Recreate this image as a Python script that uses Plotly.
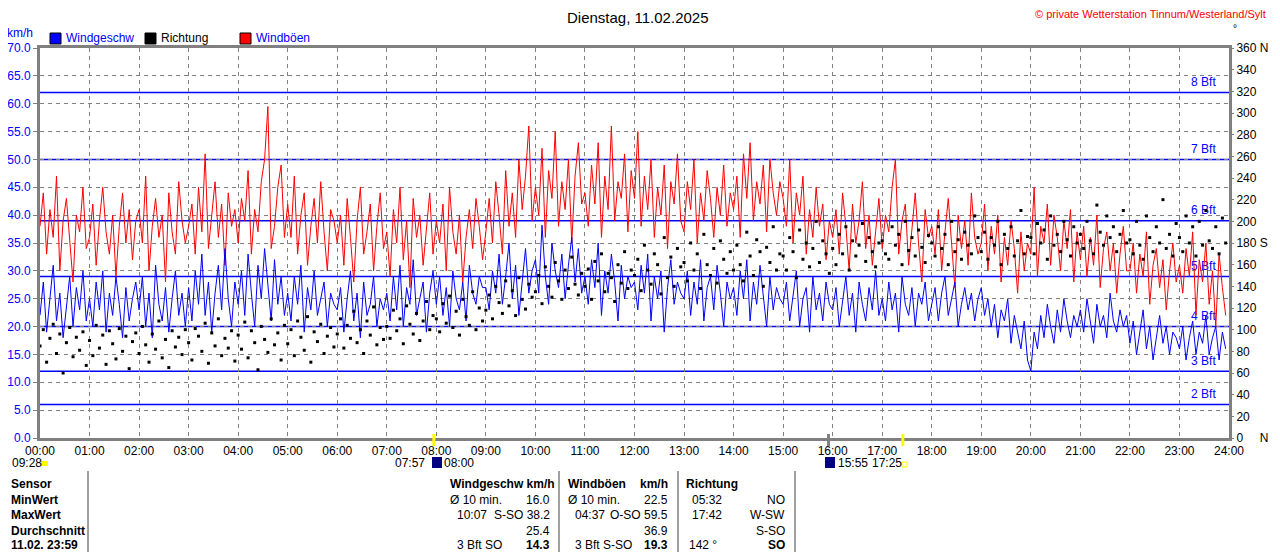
import plotly.graph_objects as go

# minutes after midnight, one reading every 4 minutes
minutes = list(range(0, 1440, 4))

# gusts (km/h), one row per hour
gusts = [
    38, 44, 33, 41, 36, 47, 30, 39, 43, 35, 28, 40, 37, 45, 34,
    36, 42, 31, 39, 45, 37, 33, 40, 29, 38, 44, 35, 41, 32, 39,
    41, 35, 47, 30, 38, 43, 36, 40, 28, 44, 37, 33, 46, 39, 35,
    38, 42, 33, 45, 37, 51, 34, 40, 46, 36, 42, 31, 44, 38, 41,
    35, 43, 39, 48, 33, 41, 37, 46, 50, 59.5, 34, 38, 45, 49, 36,
    42, 36, 47, 33, 40, 44, 31, 38, 43, 35, 46, 37, 30, 41, 39,
    35, 40, 31, 43, 36, 28, 39, 45, 33, 37, 42, 30, 38, 44, 34,
    37, 29, 41, 35, 45, 32, 39, 27, 43, 36, 40, 31, 38, 44, 33,
    39, 35, 42, 30, 45, 37, 33, 40, 28, 36, 41, 34, 43, 38, 32,
    37, 43, 35, 46, 40, 33, 48, 38, 44, 36, 50, 41, 47, 56, 39,
    45, 40, 52, 36, 48, 43, 55, 38, 46, 41, 50, 35, 47, 53, 42,
    44, 38, 49, 42, 53, 36, 47, 41, 56, 39, 46, 43, 51, 37, 48,
    43, 55, 38, 47, 41, 50, 36, 45, 40, 49, 34, 46, 42, 51, 39,
    37, 46, 41, 50, 35, 44, 39, 48, 43, 36, 45, 40, 49, 38, 44,
    41, 47, 36, 51, 43, 53, 39, 46, 42, 49, 37, 50, 44, 40, 46,
    43, 38, 50, 35, 44, 40, 47, 33, 41, 36, 45, 38, 42, 32, 39,
    36, 41, 33, 44, 38, 30, 42, 35, 39, 46, 34, 40, 31, 37, 43,
    34, 40, 37, 45, 50, 33, 39, 42, 31, 38, 44, 35, 28, 41, 36,
    38, 33, 41, 30, 37, 43, 35, 27, 40, 34, 39, 31, 44, 36, 33,
    35, 42, 30, 38, 33, 40, 28, 36, 31, 39, 34, 26, 37, 30, 35,
    33, 45, 29, 38, 35, 42, 31, 40, 36, 30, 39, 34, 41, 28, 37,
    32, 38, 29, 36, 31, 40, 27, 34, 37, 30, 35, 26, 33, 38, 30,
    30, 35, 26, 33, 29, 37, 24, 31, 34, 27, 32, 23, 30, 35, 28,
    31, 26, 34, 29, 37, 22, 32, 28, 35, 24, 30, 20, 33, 27, 22,
]

# mean wind speed (km/h)
speed = [
    22, 28, 19, 25, 31, 21, 26, 18, 24, 29, 20, 27, 23, 30, 21,
    25, 20, 28, 23, 30, 19, 26, 22, 29, 24, 18, 27, 21, 25, 28,
    23, 29, 20, 26, 18, 31, 24, 21, 27, 19, 25, 30, 22, 26, 20,
    27, 21, 30, 24, 33, 22, 28, 19, 26, 31, 23, 34, 25, 20, 28,
    24, 30, 22, 33, 26, 20, 31, 25, 34, 27, 21, 32, 24, 29, 22,
    26, 21, 29, 24, 31, 19, 27, 23, 30, 22, 25, 28, 20, 26, 24,
    23, 27, 19, 25, 30, 21, 26, 18, 28, 22, 24, 29, 20, 25, 23,
    26, 21, 29, 23, 31, 20, 27, 24, 32, 22, 25, 28, 19, 26, 30,
    24, 29, 22, 27, 20, 30, 25, 23, 28, 21, 31, 26, 24, 29, 27,
    27, 23, 30, 26, 33, 24, 29, 35, 25, 31, 22, 28, 34, 26, 30,
    32, 26, 38.2, 29, 24, 35, 30, 27, 33, 25, 31, 36, 28, 34, 26,
    29, 24, 32, 27, 35, 22, 30, 26, 33, 28, 21, 31, 25, 29, 27,
    28, 23, 31, 26, 33, 21, 29, 25, 30, 19, 27, 32, 24, 28, 26,
    25, 30, 22, 28, 24, 32, 21, 27, 29, 23, 31, 26, 20, 28, 25,
    27, 22, 30, 25, 32, 21, 28, 24, 31, 26, 20, 29, 23, 27, 25,
    24, 28, 21, 26, 30, 20, 25, 27, 19, 29, 23, 26, 21, 28, 24,
    23, 27, 20, 25, 29, 22, 26, 19, 28, 24, 21, 27, 23, 30, 22,
    25, 21, 28, 23, 26, 19, 29, 24, 22, 27, 20, 26, 24, 28, 21,
    24, 27, 21, 26, 29, 22, 25, 28, 20, 24, 27, 23, 26, 21, 25,
    27, 22, 25, 20, 24, 18, 23, 21, 25, 17, 22, 19, 16, 21, 14,
    12, 19, 16, 22, 18, 24, 20, 17, 23, 19, 25, 21, 18, 22, 20,
    23, 19, 25, 21, 17, 24, 20, 22, 18, 26, 21, 19, 23, 20, 22,
    17, 21, 15, 19, 23, 16, 20, 14, 18, 22, 17, 20, 15, 19, 18,
    16, 20, 14, 18, 21, 15, 19, 17, 22, 15, 18, 20, 14, 19, 16,
]

# wind direction (degrees)
direction = [
    85, 100, 70, 92, 105, 78, 96, 60, 88, 102, 75, 93, 81, 98, 67,
    90, 76, 104, 83, 95, 68, 99, 87, 73, 101, 80, 94, 64, 89, 97,
    78, 103, 86, 70, 96, 82, 108, 74, 91, 65, 99, 84, 93, 77, 100,
    88, 72, 101, 94, 80, 106, 69, 97, 85, 110, 76, 92, 83, 99, 71,
    95, 82, 107, 74, 99, 88, 63, 103, 91, 79, 110, 86, 97, 72, 104,
    87, 100, 76, 108, 93, 81, 112, 70, 98, 89, 105, 78, 94, 102, 84,
    96, 110, 83, 104, 92, 117, 88, 100, 78, 108, 95, 121, 86, 102, 91,
    103, 92, 118, 99, 110, 87, 122, 105, 96, 115, 90, 108, 126, 100, 113,
    110, 98, 124, 106, 131, 102, 117, 95, 128, 112, 104, 135, 100, 120, 108,
    118, 132, 110, 140, 125, 115, 145, 122, 136, 113, 148, 128, 119, 142, 130,
    135, 150, 124, 158, 140, 130, 162, 145, 128, 155, 138, 167, 142, 132, 152,
    140, 156, 128, 163, 145, 170, 135, 152, 148, 126, 160, 143, 172, 138, 155,
    150, 165, 136, 178, 155, 142, 170, 160, 133, 185, 148, 167, 140, 175, 158,
    162, 145, 180, 155, 170, 138, 188, 160, 150, 175, 143, 182, 165, 152, 172,
    155, 178, 160, 145, 190, 168, 150, 183, 172, 140, 176, 162, 195, 155, 170,
    168, 155, 185, 172, 148, 192, 165, 180, 158, 175, 200, 162, 182, 170, 152,
    175, 160, 188, 170, 195, 155, 182, 168, 178, 198, 163, 185, 172, 158, 180,
    182, 170, 165, 195, 178, 188, 160, 200, 173, 185, 168, 192, 176, 162, 187,
    180, 168, 195, 175, 188, 160, 200, 172, 183, 165, 190, 178, 170, 205, 185,
    172, 190, 165, 185, 178, 200, 160, 188, 175, 195, 168, 182, 210, 170, 186,
    185, 170, 198, 180, 192, 165, 205, 178, 188, 172, 200, 183, 168, 195, 180,
    188, 175, 200, 182, 170, 215, 190, 178, 205, 185, 195, 172, 188, 210, 180,
    183, 170, 200, 178, 165, 205, 185, 172, 195, 180, 220, 175, 188, 168, 198,
    185, 172, 205, 180, 195, 168, 200, 178, 210, 182, 175, 195, 170, 203, 180,
]

# Beaufort thresholds (km/h)
bft_names = ["2 Bft", "3 Bft", "4 Bft", "5 Bft", "6 Bft", "7 Bft", "8 Bft"]
bft_limits = [6, 12, 20, 29, 39, 50, 62]

hour_ticks = list(range(0, 1441, 60))
hour_labels = [f"{h:02d}:00" for h in range(25)]
dir_ticks = list(range(0, 361, 20))
dir_labels = [str(d) for d in dir_ticks]
dir_labels[0] = "0     N"
dir_labels[9] = "180 S"
dir_labels[18] = "360 N"

FONT = "Liberation Sans"
BLUE = "#0000ff"
RED = "#ff0000"
GREY = "#808080"


# positions below are given in the reference's pixels, relative to the plot box
def px(x):
    return (x - 40) / 1189


def py(y):
    return (438 - y) / 390


fig = go.Figure()

# Bft labels sit under the data, like in the original
fig.add_trace(go.Scatter(
    x=[1424] * len(bft_limits), y=[v + 1.7 for v in bft_limits],
    mode="text", text=bft_names, textposition="middle left",
    textfont=dict(color=BLUE, size=12, family=FONT),
    hoverinfo="skip", showlegend=False))

fig.add_trace(go.Scatter(
    x=minutes, y=gusts, name="Windböen", mode="lines",
    line=dict(color=RED, width=1), showlegend=False))
fig.add_trace(go.Scatter(
    x=minutes, y=speed, name="Windgeschw", mode="lines",
    line=dict(color=BLUE, width=1), showlegend=False))
fig.add_trace(go.Scatter(
    x=minutes, y=direction, name="Richtung", mode="markers", yaxis="y2",
    marker=dict(color="black", size=3, symbol="square"), showlegend=False))

shapes = []
for v in bft_limits:
    shapes.append(dict(type="line", xref="x", yref="y", x0=0, x1=1440, y0=v, y1=v,
                       line=dict(color=BLUE, width=1.5), layer="below"))

# sunrise / sunset / moon marks on the time axis
for m, col in [(477, "#ffff00"), (1045, "#ffff00"), (955, GREY)]:
    shapes.append(dict(type="line", xref="x", yref="paper", x0=m, x1=m,
                       y0=py(446), y1=py(434), line=dict(color=col, width=3)))

# legend boxes
for x0, col in [(50, BLUE), (145, "black"), (240, RED)]:
    shapes.append(dict(type="rect", xref="paper", yref="paper",
                       x0=px(x0), x1=px(x0 + 11), y0=py(44), y1=py(33),
                       fillcolor=col, line=dict(color="black", width=1)))

# small icons under the axis
shapes.append(dict(type="rect", xref="paper", yref="paper", x0=px(41), x1=px(48),
                   y0=py(466), y1=py(461), fillcolor="#ffff00", line=dict(width=0)))
for x0 in [432, 825]:
    shapes.append(dict(type="rect", xref="paper", yref="paper", x0=px(x0), x1=px(x0 + 10),
                       y0=py(468), y1=py(457), fillcolor="#000080", line=dict(width=0)))
shapes.append(dict(type="rect", xref="paper", yref="paper", x0=px(902), x1=px(907),
                   y0=py(467), y1=py(462), line=dict(color="#ffff00", width=1)))

# table separators
for x0 in [88, 559, 678, 795]:
    shapes.append(dict(type="line", xref="paper", yref="paper", x0=px(x0), x1=px(x0),
                       y0=py(552), y1=py(471), line=dict(color=GREY, width=1.5)))

annotations = []


def note(text, x, y, anchor="left", bold=False, color="black", size=12):
    if bold:
        text = f"<b>{text}</b>"
    annotations.append(dict(text=text, x=px(x), y=py(y), xref="paper", yref="paper",
                            xanchor=anchor, yanchor="middle", showarrow=False,
                            font=dict(family=FONT, size=size, color=color)))


note("Dienstag, 11.02.2025", 638, 17, anchor="center", size=15)
note("© private Wetterstation Tinnum/Westerland/Sylt", 1268, 14, anchor="right", color=RED, size=11)
note("km/h", 5, 33, color=BLUE)
note("Windgeschw", 64, 38, color=BLUE)
note("Richtung", 159, 38)
note("Windböen", 254, 38, color=BLUE)
note("°", 1231, 29, size=10)

note("09:28", 10, 463)
note("07:57", 427, 463, anchor="right")
note("08:00", 442, 463)
note("15:55", 836, 463)
note("17:25", 870, 463)

rows = [484, 500, 515, 531, 545]
for label, y in zip(["Sensor", "MinWert", "MaxWert", "Durchschnitt", "11.02. 23:59"], rows):
    note(label, 9, y, bold=True)

note("Windgeschw km/h", 448, rows[0], bold=True)
note("Ø 10 min.", 448, rows[1])
note("16.0", 552, rows[1], anchor="right")
note("10:07", 455, rows[2])
note("S-SO 38.2", 552, rows[2], anchor="right")
note("25.4", 552, rows[3], anchor="right")
note("3 Bft SO", 455, rows[4])
note("14.3", 552, rows[4], anchor="right", bold=True)

note("Windböen", 566, rows[0], bold=True)
note("km/h", 670, rows[0], anchor="right", bold=True)
note("Ø 10 min.", 566, rows[1])
note("22.5", 670, rows[1], anchor="right")
note("04:37", 573, rows[2])
note("O-SO 59.5", 670, rows[2], anchor="right")
note("36.9", 670, rows[3], anchor="right")
note("3 Bft S-SO", 573, rows[4])
note("19.3", 670, rows[4], anchor="right", bold=True)

note("Richtung", 684, rows[0], bold=True)
note("05:32", 690, rows[1])
note("NO", 787, rows[1], anchor="right")
note("17:42", 690, rows[2])
note("W-SW", 787, rows[2], anchor="right")
note("S-SO", 787, rows[3], anchor="right")
note("142 °", 687, rows[4])
note("SO", 787, rows[4], anchor="right", bold=True)

# the page adds an 8px body margin, so the figure is 8px smaller and the
# plot box starts 8px earlier to land where the reference has it
fig.update_layout(
    width=1272, height=544,
    margin=dict(l=32, r=51, t=40, b=114),
    paper_bgcolor="white", plot_bgcolor="white",
    font=dict(family=FONT, size=12, color="black"),
    showlegend=False,
    shapes=shapes, annotations=annotations,
    xaxis=dict(range=[0, 1440], tickvals=hour_ticks, ticktext=hour_labels,
               showgrid=True, gridcolor=GREY, griddash="4px,4px", gridwidth=1,
               showline=True, linecolor=GREY, linewidth=3, mirror=True,
               ticks="", zeroline=False, automargin=False,
               tickfont=dict(size=12, color="black")),
    yaxis=dict(range=[0, 70], dtick=5, tickformat=".1f",
               showgrid=True, gridcolor=GREY, griddash="4px,4px", gridwidth=1,
               showline=True, linecolor=GREY, linewidth=3, mirror=True,
               ticks="outside", ticklen=4, tickcolor=GREY, zeroline=False,
               automargin=False, tickfont=dict(size=12, color=BLUE)),
    yaxis2=dict(range=[0, 360], overlaying="y", side="right",
                tickvals=dir_ticks, ticktext=dir_labels, showgrid=False,
                ticks="outside", ticklen=4, tickcolor=GREY, zeroline=False,
                automargin=False, tickfont=dict(size=12, color="black")),
)

fig.write_html("out.html")
